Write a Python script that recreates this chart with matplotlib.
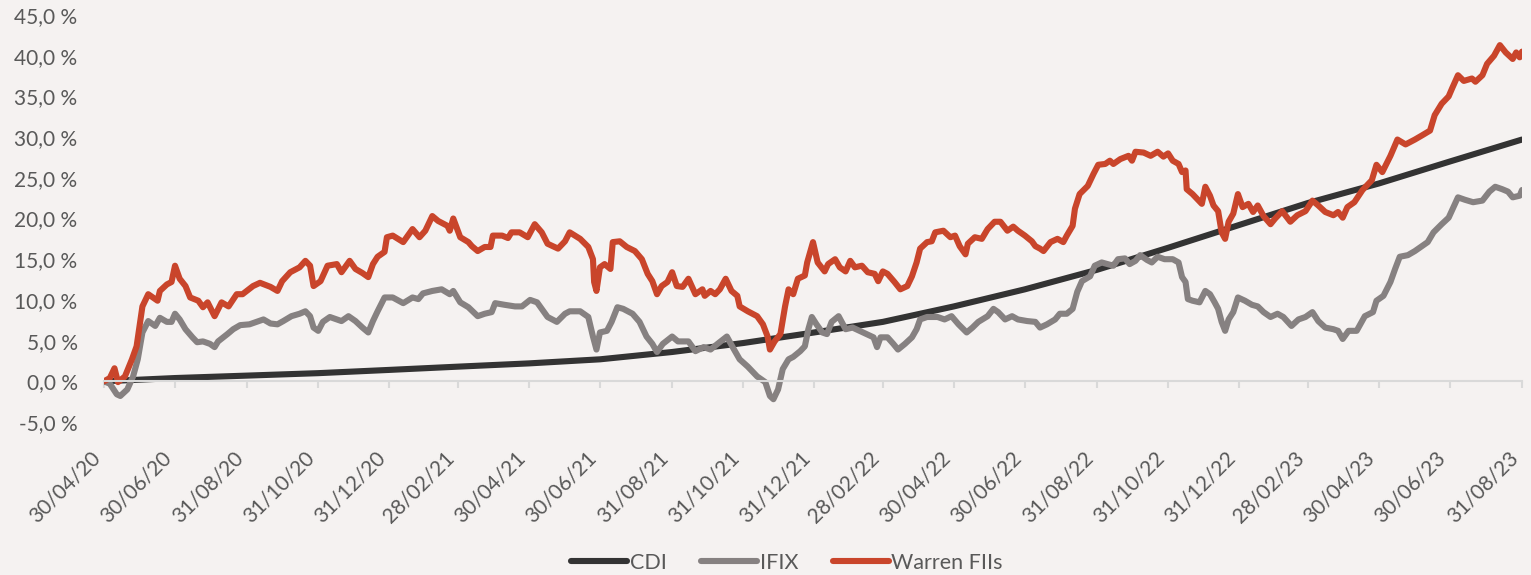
import matplotlib
matplotlib.use("Agg")
import matplotlib.pyplot as plt
import pandas as pd

# Séries (dias desde 30/04/20, rentabilidade acumulada em %)
inicio = pd.Timestamp("2020-04-30")

dias_warren = [0, 5, 9, 12, 18, 24, 28, 33, 38, 46, 48, 54, 58, 61, 65, 70, 74, 81, 85, 89,
               95, 101, 107, 114, 119, 128, 134, 143, 149, 153, 160, 168, 173, 177, 180, 186, 192, 200,
               204, 211, 216, 222, 227, 231, 235, 241, 243, 248, 257, 265, 271, 276, 282, 287, 295, 297,
               300, 306, 313, 316, 321, 327, 332, 334, 342, 347, 350, 357, 364, 370, 376, 381, 390, 396, 400,
               409, 416, 420, 421, 423, 426, 430, 435, 437, 443, 449, 456, 462, 467, 471, 475, 479, 484,
               488, 492, 497, 502, 508, 514, 516, 521, 525, 529, 534, 539, 544, 546, 553, 561, 566, 570,
               572, 576, 581, 585, 588, 592, 596,
               602, 604, 609, 613, 619, 622, 628, 632, 637, 641, 645, 651, 656, 662, 665, 669, 673, 679,
               684, 690, 694, 698, 701, 707, 711, 714, 721, 727, 731, 735, 740, 742, 748, 754, 759, 765,
               770, 776, 781, 785, 791, 797, 800, 804,
               807, 813, 819, 824, 827, 832, 834, 838, 845, 850, 854, 860, 864, 867, 873, 880, 883, 886,
               893, 899, 905, 910, 914, 918, 923, 926, 929, 930, 935, 939, 943, 946, 950, 953, 957, 960,
               963, 966, 970, 974, 978, 983, 987, 991, 996, 1002, 1006,
               1012, 1019, 1025, 1032, 1038, 1043, 1049, 1056, 1060, 1064, 1068, 1074, 1081, 1089, 1093,
               1098, 1105, 1111, 1118, 1126, 1132, 1139, 1143, 1149, 1155, 1158, 1163, 1168, 1175, 1178,
               1184, 1188, 1194, 1199, 1204, 1210, 1213, 1216, 1218]
warren = [0.0, 0.4, 1.6, -0.1, 0.6, 2.7, 4.3, 9.2, 10.7, 9.9, 11.1, 11.9, 12.2, 14.2, 12.6, 11.7, 10.3, 9.9, 9.1, 9.7,
          8.0, 9.7, 9.2, 10.7, 10.7, 11.7, 12.1, 11.6, 11.1, 12.3, 13.4, 14.0, 14.8, 14.2, 11.7, 12.3, 14.2, 14.4,
          13.4, 14.8, 13.8, 13.3, 12.8, 14.4, 15.3, 15.9, 17.7, 17.9, 17.1, 18.7, 17.7, 18.5, 20.3, 19.7, 19.1, 18.5,
          20.0, 17.7, 17.1, 16.6, 16.0, 16.5, 16.5, 17.9, 17.9, 17.6, 18.3, 18.3, 17.7, 19.3, 18.3, 16.9, 16.3, 17.2, 18.3,
          17.5, 16.5, 15.0, 12.2, 11.1, 14.0, 14.4, 13.8, 17.1, 17.2, 16.5, 16.0, 15.0, 13.2, 12.3, 10.7, 11.7, 12.2,
          13.4, 11.7, 11.6, 12.6, 10.7, 11.3, 10.5, 11.1, 10.7, 11.3, 12.6, 11.1, 10.5, 9.2, 8.6, 8.0, 7.0, 5.5,
          3.9, 4.9, 5.8, 9.2, 11.3, 10.7, 12.6,
          13.0, 14.6, 17.1, 14.6, 13.5, 14.4, 15.0, 14.0, 13.5, 14.8, 14.0, 14.2, 13.4, 13.2, 12.3, 13.5, 13.2, 12.2,
          11.3, 11.7, 12.9, 14.6, 16.3, 17.1, 17.2, 18.3, 18.5, 17.7, 17.9, 16.6, 15.6, 16.9, 17.7, 17.5, 18.7, 19.6,
          19.6, 18.5, 19.0, 18.5, 17.9, 17.2, 16.6, 16.3,
          16.0, 17.1, 17.5, 17.1, 17.9, 19.1, 21.2, 23.0, 24.0, 25.5, 26.6, 26.7, 27.1, 26.7, 27.3, 27.7, 27.1, 28.2,
          28.1, 27.7, 28.2, 27.6, 28.0, 27.1, 26.7, 25.7, 25.9, 23.6, 23.0, 22.4, 21.8, 23.9, 22.8, 21.6, 20.9, 18.3,
          17.5, 19.6, 20.6, 23.0, 21.4, 21.8, 20.8, 21.6, 20.3, 19.3, 20.0,
          20.9, 19.6, 20.4, 20.9, 22.2, 21.6, 20.8, 20.4, 20.8, 20.1, 21.4, 22.0, 23.5, 24.7, 26.6,
          25.7, 27.7, 29.7, 29.1, 29.7, 30.2, 30.8, 32.7, 34.1, 35.0, 36.0, 37.6, 36.9, 37.2, 36.8,
          37.6, 39.0, 40.0, 41.3, 40.4, 39.6, 40.4, 39.8, 40.5]

dias_ifix = [0, 5, 11, 14, 20, 25, 29, 33, 38, 44, 48, 54, 58, 61, 65, 70, 76, 80, 85, 91,
             95, 98, 106, 111, 117, 125, 131, 137, 143, 149, 154, 161, 168, 173, 177, 180, 184, 188, 194,
             204, 210, 216, 222, 227, 231, 235, 241, 248, 257, 265, 270, 274, 282, 290, 297, 300, 306, 313, 321,
             327, 333, 336, 344, 353, 359, 366, 372, 381, 389, 396, 400,
             409, 416, 420, 423, 426, 432, 436, 441, 446, 454, 460, 466, 471, 475, 480, 488, 493, 502, 508, 515,
             521, 527, 535, 540, 546, 553, 561, 568, 572, 575, 579, 583, 588, 592, 598, 602,
             605, 608, 612, 617, 621, 625, 631, 637, 643, 649, 655, 661, 664, 667, 673, 678, 682, 688, 694, 698,
             701, 707, 716, 722, 728, 734, 741, 746, 751, 759, 764, 768, 774, 780, 785, 793, 800, 804,
             810, 817, 821, 827, 832, 836, 840, 847, 851, 857, 862, 867, 871, 877, 881, 886, 890, 896, 900, 905,
             911, 918, 923, 926, 929, 931, 935, 941, 946, 950, 954, 957, 960, 963, 966, 970, 974, 980, 986, 991,
             996, 1002, 1008,
             1013, 1020, 1026, 1032, 1038, 1043, 1049, 1056, 1060, 1064, 1069, 1076, 1083, 1090, 1093, 1099,
             1105, 1109, 1113, 1120, 1126, 1132, 1137, 1142, 1149, 1155, 1163, 1169, 1176, 1184, 1190, 1195,
             1201, 1206, 1210, 1216, 1218]
ifix = [0.0, -0.3, -1.6, -1.8, -1.0, 0.6, 2.7, 6.0, 7.4, 6.8, 7.8, 7.3, 7.3, 8.3, 7.6, 6.4, 5.4, 4.8, 4.9, 4.6,
        4.2, 4.9, 5.8, 6.4, 6.9, 7.0, 7.3, 7.6, 7.1, 7.0, 7.4, 8.0, 8.3, 8.6, 8.0, 6.6, 6.2, 7.3, 7.9,
        7.4, 8.0, 7.4, 6.6, 6.0, 7.4, 8.6, 10.3, 10.3, 9.6, 10.3, 10.1, 10.8, 11.1, 11.3, 10.7, 11.1, 9.7, 9.1, 8.0,
        8.3, 8.5, 9.6, 9.4, 9.2, 9.2, 10.0, 9.7, 7.9, 7.3, 8.3, 8.6,
        8.6, 7.9, 5.5, 3.9, 6.0, 6.2, 7.3, 9.1, 8.9, 8.3, 7.3, 5.5, 4.6, 3.6, 4.6, 5.5, 4.9, 4.9, 3.7, 4.2,
        3.9, 4.6, 5.5, 4.2, 2.7, 1.8, 0.6, -0.1, -1.8, -2.2, -1.0, 1.5, 2.7, 3.0, 3.7, 4.3,
        6.4, 7.9, 7.0, 6.0, 5.8, 7.3, 8.0, 6.4, 6.6, 6.2, 5.8, 5.4, 4.2, 5.4, 5.4, 4.6, 3.9, 4.6, 5.4, 6.4,
        7.6, 7.9, 7.9, 7.6, 8.0, 7.0, 6.0, 6.6, 7.3, 8.0, 8.9, 8.5, 7.6, 8.0, 7.6, 7.4, 7.3, 6.6,
        7.0, 7.6, 8.3, 8.3, 8.9, 11.0, 12.3, 12.9, 14.2, 14.6, 14.4, 14.2, 15.0, 15.1, 14.4, 14.8, 15.5, 14.9, 14.6, 15.3,
        15.0, 15.0, 14.6, 12.8, 12.2, 10.1, 9.9, 9.7, 11.1, 10.7, 9.7, 8.9, 7.3, 6.2, 7.6, 8.5, 10.3, 9.9, 9.4, 9.2,
        8.5, 7.9, 8.3,
        7.9, 6.8, 7.6, 7.9, 8.5, 7.4, 6.6, 6.4, 6.2, 5.2, 6.2, 6.2, 8.0, 8.5, 9.9, 10.5,
        12.2, 13.8, 15.3, 15.5, 16.0, 16.6, 17.1, 18.3, 19.3, 20.1, 22.6, 22.3, 22.0, 22.2, 23.3, 23.9,
        23.6, 23.3, 22.6, 22.8, 23.5]

rotulos = ["30/04/20", "30/06/20", "31/08/20", "31/10/20", "31/12/20", "28/02/21", "30/04/21",
           "30/06/21", "31/08/21", "31/10/21", "31/12/21", "28/02/22", "30/04/22", "30/06/22",
           "31/08/22", "31/10/22", "31/12/22", "28/02/23", "30/04/23", "30/06/23", "31/08/23"]
cdi = [0.0, 0.4, 0.7, 1.0, 1.4, 1.8, 2.2, 2.7, 3.6, 4.7, 6.0, 7.3, 9.2, 11.3, 13.7, 16.4,
       19.2, 21.9, 24.3, 27.0, 29.7]

datas_rotulos = pd.to_datetime(rotulos, format="%d/%m/%y")
datas_warren = inicio + pd.to_timedelta(dias_warren, unit="D")
datas_ifix = inicio + pd.to_timedelta(dias_ifix, unit="D")

fundo = "#f5f2f1"
cor_texto = "#595959"

plt.rcParams["font.family"] = ["Lato", "DejaVu Sans"]

fig = plt.figure(figsize=(15.31, 5.75), dpi=100, facecolor=fundo)
ax = fig.add_axes([104 / 1531, 1 - 422 / 575, (1522 - 104) / 1531, (422 - 15) / 575])
ax.set_facecolor(fundo)

ax.plot(datas_rotulos, cdi, color="#333333", lw=4.4, label="CDI", solid_capstyle="round")
ax.plot(datas_ifix, ifix, color="#868181", lw=4.4, label="IFIX", solid_capstyle="round")
ax.plot(datas_warren, warren, color="#c9452b", lw=4.4, label="Warren FIIs", solid_capstyle="round")

ax.set_xlim(datas_rotulos[0], datas_rotulos[-1])
ax.set_ylim(-5, 45)

# Eixo Y
ax.set_yticks(range(-5, 50, 5))
ax.set_yticklabels([f"{v:.1f} %".replace(".", ",") for v in range(-5, 50, 5)])
ax.tick_params(axis="y", length=0, pad=19, labelsize=15, labelcolor=cor_texto)

# Eixo X passando no zero, rótulos embaixo
for lado in ["left", "right", "top"]:
    ax.spines[lado].set_visible(False)
ax.spines["bottom"].set_position(("data", 0))
ax.spines["bottom"].set_color("#d9d9d9")
ax.spines["bottom"].set_linewidth(1.5)
ax.set_xticks(datas_rotulos)
ax.set_xticklabels(rotulos, rotation=45, ha="right")
ax.tick_params(axis="x", length=5, width=1.5, color="#d9d9d9", pad=43,
               labelsize=15, labelcolor=cor_texto)

leg = fig.legend(loc="lower center", bbox_to_anchor=(0.514, -0.03), ncol=3, frameon=False,
                 fontsize=15.5, handlelength=2.6, handletextpad=0.12, columnspacing=1.6)
for t in leg.get_texts():
    t.set_color(cor_texto)

fig.savefig("out.png", dpi=100, facecolor=fundo)
